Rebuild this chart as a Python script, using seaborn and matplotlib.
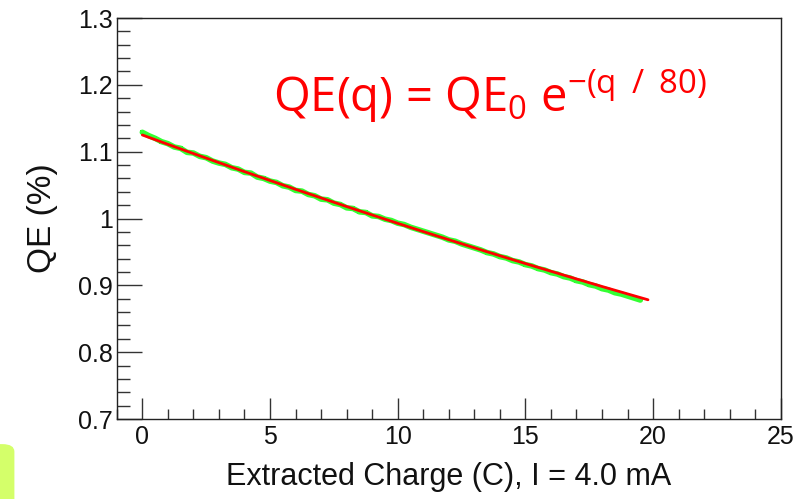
import numpy as np
import pandas as pd
import matplotlib
matplotlib.use("Agg")
import matplotlib.pyplot as plt
from matplotlib.patches import FancyBboxPatch
from matplotlib.ticker import MultipleLocator
import seaborn as sns

# measured QE points (green), every 0.25 C
charge = [i * 0.25 for i in range(79)]
qe_data = [1.129, 1.124, 1.120, 1.115, 1.112, 1.107, 1.105, 1.099, 1.098, 1.093,
           1.091, 1.086, 1.083, 1.081, 1.076, 1.074, 1.069, 1.068, 1.062, 1.060,
           1.056, 1.054, 1.049, 1.047, 1.042, 1.041, 1.036, 1.034, 1.029, 1.028,
           1.023, 1.021, 1.016, 1.015, 1.010, 1.009, 1.004, 1.003, 0.999, 0.997,
           0.993, 0.991, 0.987, 0.984, 0.981, 0.978, 0.975, 0.972, 0.968, 0.966,
           0.962, 0.959, 0.956, 0.953, 0.949, 0.947, 0.943, 0.941, 0.937, 0.935,
           0.931, 0.929, 0.925, 0.923, 0.919, 0.917, 0.913, 0.911, 0.907, 0.905,
           0.901, 0.899, 0.895, 0.893, 0.889, 0.887, 0.884, 0.881, 0.878]

# exponential fit (red)
fit_q = [0, 1, 2, 3, 4, 5, 6, 7, 8, 9, 10, 11, 12, 13, 14, 15, 16, 17, 18, 19, 19.8]
fit_qe = [1.1250, 1.1110, 1.0972, 1.0836, 1.0701, 1.0569, 1.0437, 1.0308, 1.0179,
          1.0053, 0.9928, 0.9804, 0.9683, 0.9562, 0.9443, 0.9326, 0.9211, 0.9096,
          0.8983, 0.8872, 0.8784]

data = pd.DataFrame({"q": charge, "qe": qe_data})
fit = pd.DataFrame({"q": fit_q, "qe": fit_qe})

sns.set_style("ticks")
plt.rcParams["font.family"] = ["Liberation Sans", "DejaVu Sans"]
plt.rcParams["mathtext.fontset"] = "custom"
plt.rcParams["mathtext.rm"] = "Open Sans"
plt.rcParams["mathtext.it"] = "Open Sans"

fig = plt.figure(figsize=(8, 4.99), dpi=100)
ax = fig.add_axes([0.146, 0.1603, 0.830, 0.8036])

sns.lineplot(data=data, x="q", y="qe", ax=ax, color="#33ff33", lw=4)
sns.scatterplot(data=data, x="q", y="qe", ax=ax, color="#00dd00", marker="s",
                s=5, linewidth=0)
sns.lineplot(data=fit, x="q", y="qe", ax=ax, color="#ff0000", lw=2)

ax.set_xlim(-1, 25)
ax.set_ylim(0.7, 1.3)
ax.xaxis.set_major_locator(MultipleLocator(5))
ax.xaxis.set_minor_locator(MultipleLocator(1))
ax.yaxis.set_major_locator(MultipleLocator(0.1))
ax.yaxis.set_minor_locator(MultipleLocator(0.02))
ax.set_yticks([0.7, 0.8, 0.9, 1.0, 1.1, 1.2, 1.3])
ax.set_yticklabels(["0.7", "0.8", "0.9", "1", "1.1", "1.2", "1.3"])
ax.tick_params(axis="both", which="major", direction="in", labelsize=18,
               width=1, color="#333333", labelcolor="#111111")
ax.tick_params(axis="y", which="major", length=18, pad=3)
ax.tick_params(axis="x", which="major", length=15, pad=4)
ax.tick_params(axis="y", which="minor", direction="in", length=9, width=1, color="#333333")
ax.tick_params(axis="x", which="minor", direction="in", length=7, width=1, color="#333333")
for sp in ax.spines.values():
    sp.set_visible(True)
    sp.set_linewidth(1)
    sp.set_color("#222222")

ax.set_xlabel("Extracted Charge (C), I = 4.0 mA", fontsize=22, labelpad=10,
              color="#111111")
ax.set_ylabel("QE (%)", fontsize=24, labelpad=14, color="#111111")

ax.text(0.235, 0.765, r"QE(q) = QE$_0$ e$^{\mathrm{-(q\ \,/\ \,80)}}$", transform=ax.transAxes,
        color="#ff0000", fontsize=34, family="Open Sans")

# green tab at the lower left of the slide
fig.patches.append(FancyBboxPatch((-0.02, -0.05), 0.038, 0.16, boxstyle="round,pad=0,rounding_size=0.015",
                                  transform=fig.transFigure, facecolor="#d4ff6a",
                                  edgecolor="none", figure=fig))

fig.savefig("out.png", dpi=100)
